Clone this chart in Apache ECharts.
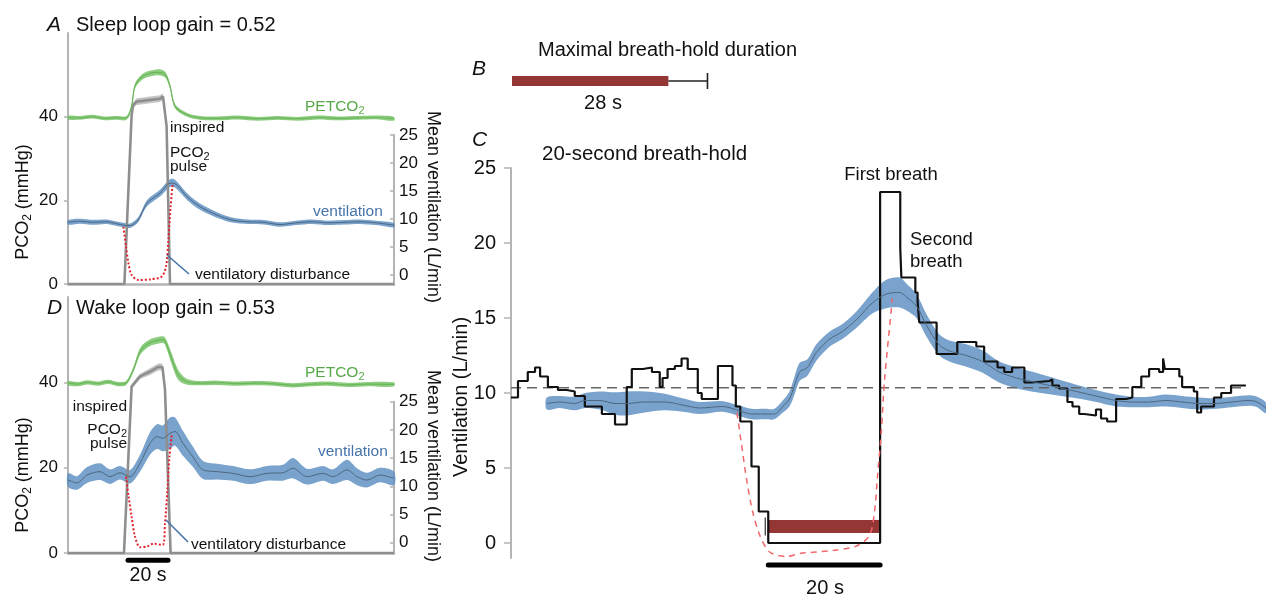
<!DOCTYPE html>
<html>
<head>
<meta charset="utf-8">
<title>Loop gain and breath-hold ventilation</title>
<script src="https://cdn.jsdelivr.net/npm/echarts@6/dist/echarts.min.js"></script>
<style>
  html, body { margin: 0; padding: 0; background: #fff; }
  #chart { width: 1266px; height: 596px; }
</style>
</head>
<body>
<div id="chart"></div>
<script>
// ---- Panel A: sleep (time in s, pulse starts at 0) ----
const aPetT = [-30, -24, -18, -12, -6, -0.7, 1.8, 3.5, 7.7, 14.3, 18.5, 21, 23.5, 29.3, 36, 45, 55, 65, 75, 85, 95, 105, 115, 125, 133]
const aPetMean = [39.8, 39.7, 40.0, 39.6, 39.7, 39.7, 42.5, 47.3, 49.7, 50.6, 50.1, 47.3, 42.5, 40.5, 39.7, 39.6, 39.8, 39.5, 39.7, 39.5, 39.8, 39.6, 39.7, 39.8, 39.5]
const aPetSd = [0.45, 0.45, 0.45, 0.45, 0.45, 0.45, 0.5, 0.6, 0.7, 0.7, 0.7, 0.6, 0.5, 0.45, 0.45, 0.45, 0.45, 0.45, 0.45, 0.45, 0.45, 0.45, 0.45, 0.45, 0.45]
const aInspT = [-30, -1.8, 1.8, 2.5, 4.3, 16, 17.5, 19.3, 21, 133]
const aInspMean = [0, 0, 40.3, 42.7, 43.6, 44.3, 44.8, 37.7, 0, 0]
const aInspSd = [0, 0, 0.4, 0.7, 0.8, 0.8, 0.8, 0.5, 0, 0]
const aVentT = [-30, -24, -17.5, -11, -5, -2.3, 1, 5, 9.5, 16, 21, 23.5, 29.5, 36, 44.5, 52, 60, 68, 76, 84, 92, 100, 108, 116, 124, 133]
const aVentMean = [9.4, 9.6, 9.4, 9.5, 9.1, 8.9, 8.8, 9.8, 12.8, 14.6, 16.4, 16.3, 14.0, 12.2, 10.7, 9.8, 9.5, 9.4, 9.0, 9.3, 9.5, 9.3, 9.4, 9.5, 9.3, 8.9]
const aVentSd = [0.4, 0.45, 0.45, 0.4, 0.4, 0.4, 0.4, 0.45, 0.55, 0.6, 0.7, 0.7, 0.6, 0.55, 0.5, 0.45, 0.4, 0.4, 0.4, 0.4, 0.4, 0.4, 0.4, 0.4, 0.4, 0.4]
const aDistT = [-2.3, -1, 0.2, 1.8, 5.2, 11, 16.8, 19, 20.2, 21.3, 22.3]
const aDistV = [8.6, 5.1, 2.1, 0, -0.9, -0.8, -0.3, 1.5, 6.2, 12.2, 16.1]

// ---- Panel D: wake ----
const dPetT = [-30, -25, -20, -15, -10, -5, -1, 2.7, 6, 9.3, 12.7, 17.7, 19.3, 22, 25, 29, 35, 45, 55, 65, 75, 82.5, 90, 100, 110, 120, 133]
const dPetMean = [39.8, 39.6, 40.0, 39.7, 40.1, 39.6, 39.8, 43.0, 47.2, 48.8, 49.6, 50.0, 48.8, 45.3, 41.8, 40.2, 39.8, 39.9, 39.7, 39.8, 39.6, 39.3, 39.5, 39.7, 39.4, 39.6, 39.5]
const dPetSd = [0.5, 0.5, 0.5, 0.5, 0.5, 0.5, 0.5, 0.6, 0.8, 0.8, 0.8, 0.8, 1.0, 1.3, 1.2, 0.7, 0.5, 0.5, 0.5, 0.5, 0.5, 0.5, 0.5, 0.5, 0.5, 0.5, 0.5]
const dInspT = [-30, -2, 1.8, 6, 11, 15.2, 17.2, 18.5, 21.3, 133]
const dInspMean = [0, 0, 39.0, 41.4, 42.5, 43.6, 43.6, 38.3, 0, 0]
const dInspSd = [0, 0, 0.5, 0.6, 0.8, 0.8, 0.8, 0.6, 0, 0]
const dVentT = [-30, -25.5, -20.5, -14, -9, -4, 1, 6, 11, 14.5, 17.5, 21, 23.5, 27.5, 32.5, 37.5, 44.5, 52.5, 61, 69.5, 77.5, 82.5, 89.5, 97.5, 102.5, 109.5, 114.5, 119.5, 126, 133]
const dVentMean = [11.1, 10.6, 12.0, 12.6, 11.7, 12.4, 11.7, 14.1, 17.6, 18.8, 18.5, 19.4, 19.7, 17.6, 15.2, 12.9, 12.6, 12.3, 11.7, 12.3, 12.4, 13.2, 11.7, 12.3, 11.7, 12.9, 11.7, 11.1, 12.0, 11.4]
const dVentSd = [1.2, 1.2, 1.4, 1.5, 1.3, 1.2, 1.2, 1.5, 2.0, 2.2, 2.3, 2.8, 2.5, 2.2, 1.8, 1.6, 1.4, 1.3, 1.3, 1.3, 1.4, 1.8, 1.4, 1.3, 1.3, 1.8, 1.5, 1.3, 1.3, 1.2]
const dDistT = [-1, 0.3, 1.8, 3.5, 6, 9.3, 12.7, 17.3, 18.5, 19.7, 20.7, 22]
const dDistV = [11.7, 8.2, 4.6, 1.1, -0.8, -0.7, -0.2, -0.4, 3.4, 9.3, 15.2, 19.4]
const pulseBar = [0, 20]

// ---- Panel B: maximal breath-hold ----
const maxHold = 28
const maxHoldSd = 7

// ---- Panel C: 20-second breath-hold (time in s, hold starts at 0) ----
const cBreathT = [-46, -44.75, -43, -41.7, -40.8, -39.4, -37.6, -36, -34.6, -32.8, -29.75, -27.4, -25.3, -24.4, -22.4, -20.8, -19.4, -18.9, -18.0, -16.7, -15.5, -14.4, -12.6, -11.9, -9.0, -6.4, -5.8, -5.0, -3.0, -1.7, 0, 20, 23.6, 23.8, 26.3, 26.7, 27.0, 30.1, 33.8, 37.2, 38.6, 41.0, 42.2, 43.6, 45.8, 47.2, 50.25, 50.8, 52.0, 53.5, 54.4, 55.6, 56.5, 58.6, 59.5, 60.6, 62.2, 64.0, 65.1, 66.7, 68.1, 69.9, 70.6, 70.9, 73.5, 74.0, 76.1, 76.7, 77.4, 79.7, 81.0, 82.75, 85.4]
const cBreathV = [9.7, 10.8, 11.4, 11.7, 11.1, 10.4, 10.2, 10.1, 9.8, 9.1, 8.6, 7.9, 10.4, 11.6, 11.7, 11.4, 10.4, 11.0, 11.6, 11.8, 12.3, 11.6, 10.0, 9.6, 11.8, 10.5, 9.1, 8.1, 5.1, 2.1, 0, 23.4, 19.7, 17.7, 16.7, 16.1, 14.7, 12.6, 13.4, 13.1, 12.1, 11.7, 11.4, 11.7, 10.7, 10.8, 10.9, 10.5, 10.3, 9.4, 9.1, 8.6, 8.5, 8.9, 8.3, 8.1, 9.6, 9.7, 10.4, 11.1, 11.6, 11.4, 12.3, 11.6, 11.1, 10.4, 10.1, 8.7, 9.1, 9.7, 10.0, 10.5, 10.5]
const cVentT = [-39.6, -37.25, -34.6, -32.8, -30.1, -27.4, -25.3, -22.1, -18.5, -15.3, -12.25, -8.1, -5.1, -3.0, -0.6, 1.1, 2.6, 3.8, 4.7, 5.6, 7.0, 8.6, 11.0, 13.25, 15.8, 18.6, 21.1, 23.5, 24.7, 26.5, 28.3, 30.6, 32.4, 35.4, 38.3, 41.3, 44.4, 47.9, 51.5, 55.1, 58.6, 62.2, 65.1, 68.1, 71.1, 74.0, 77.0, 80.1, 82.9, 86.0, 87.4, 89]
const cVentMean = [9.3, 9.4, 9.3, 9.5, 9.5, 9.3, 9.3, 9.4, 9.4, 9.2, 9.0, 9.1, 8.8, 8.6, 8.6, 8.6, 9.1, 9.6, 10.5, 11.4, 11.7, 12.7, 13.6, 14.1, 14.9, 16.0, 16.6, 16.7, 16.4, 15.8, 14.5, 13.2, 12.8, 12.5, 12.1, 11.4, 11.0, 10.7, 10.4, 10.1, 9.8, 9.5, 9.4, 9.4, 9.5, 9.4, 9.3, 9.3, 9.4, 9.5, 9.4, 9.0]
const cVentSd = [0.4, 0.4, 0.45, 0.5, 0.6, 0.75, 0.8, 0.7, 0.55, 0.45, 0.4, 0.35, 0.35, 0.35, 0.35, 0.35, 0.4, 0.5, 0.6, 0.6, 0.55, 0.55, 0.5, 0.5, 0.55, 0.7, 0.95, 1.0, 0.9, 0.8, 0.75, 0.7, 0.7, 0.75, 0.75, 0.7, 0.7, 0.65, 0.55, 0.45, 0.4, 0.4, 0.35, 0.35, 0.4, 0.4, 0.4, 0.35, 0.35, 0.35, 0.35, 0.35]
const cDistT = [-5.6, -4.75, -3.9, -2.8, -1.5, 0.25, 3.3, 5.6, 11.5, 15.8, 18.1, 19.0, 19.5, 20.25, 20.8, 22.2]
const cDistV = [8.7, 6.5, 4.3, 2.1, 0.5, -0.6, -0.9, -0.7, -0.5, -0.2, 0.5, 2.1, 4.3, 7.6, 10.9, 16.3]
const cBaseline = 10.35
const holdSpan = [0, 20]
const holdLevel = 1.1

const FONT = '"Liberation Sans", Arial, Helvetica, sans-serif'
const AXIS_GRAY = '#b4b4b4'
const BLUE_FILL = 'rgba(92,143,193,0.82)'
const BLUE_LINE = '#4d6780'
const BLUE_TEXT = '#4674aa'
const GREEN_TEXT = '#57a948'

function pairs(t, v) {
  return t.map((x, i) => [x, v[i]])
}

function lineSeries(xi, yi, t, v, lineStyle, extra) {
  return Object.assign({
    type: 'line',
    xAxisIndex: xi,
    yAxisIndex: yi,
    data: pairs(t, v),
    symbol: 'none',
    silent: true,
    lineStyle,
  }, extra || {})
}

// mean +/- sd ribbon drawn as one polygon through the axes
function bandSeries(xi, yi, t, mean, sd, fill, smooth) {
  return {
    type: 'custom',
    xAxisIndex: xi,
    yAxisIndex: yi,
    silent: true,
    data: pairs(t, mean),
    renderItem(params, api) {
      if (params.dataIndex !== 0) return null
      const up = t.map((x, i) => api.coord([x, mean[i] + sd[i]]))
      const lo = t.map((x, i) => api.coord([x, mean[i] - sd[i]])).reverse()
      return {
        type: 'polygon',
        shape: { points: up.concat(lo), smooth: smooth || 0 },
        style: { fill },
      }
    },
  }
}

// horizontal scale bar (e.g. 20 s) placed at a value below the axis
function scaleBar(xi, yi, span, yVal, width) {
  return {
    type: 'custom',
    xAxisIndex: xi,
    yAxisIndex: yi,
    silent: true,
    clip: false,
    data: [span],
    renderItem(params, api) {
      const p0 = api.coord([span[0], yVal])
      const p1 = api.coord([span[1], yVal])
      return {
        type: 'line',
        shape: { x1: p0[0], y1: p0[1], x2: p1[0], y2: p1[1] },
        style: { stroke: '#000', lineWidth: width, lineCap: 'round' },
      }
    },
  }
}

function sub(size, color) {
  return {
    s: {
      fontSize: Math.round(size * 0.68),
      fontFamily: FONT,
      fill: color,
      padding: [Math.round(size * 0.5), 0, 0, 0],
    },
  }
}

function label(x, y, text, o) {
  o = o || {}
  const size = o.size || 15.5
  const color = o.color || '#111'
  return {
    type: 'text',
    x,
    y,
    rotation: o.rot || 0,
    silent: true,
    z: 100,
    style: {
      text,
      fontFamily: FONT,
      fontSize: size,
      fontStyle: o.italic ? 'italic' : 'normal',
      fill: color,
      align: o.align || 'left',
      verticalAlign: 'middle',
      rich: sub(size, color),
    },
  }
}

function leader(x1, y1, x2, y2) {
  return {
    type: 'line',
    silent: true,
    z: 100,
    shape: { x1, y1, x2, y2 },
    style: { stroke: BLUE_TEXT, lineWidth: 1.6 },
  }
}

function timeAxis(grid, min, max, showLine) {
  return {
    type: 'value',
    gridIndex: grid,
    min,
    max,
    show: showLine,
    axisLine: { show: showLine, onZero: false, lineStyle: { color: AXIS_GRAY, width: 2.5 } },
    axisTick: { show: false },
    axisLabel: { show: false },
    splitLine: { show: false },
  }
}

function valueAxis(grid, min, max, ticks, o) {
  return {
    type: 'value',
    gridIndex: grid,
    min,
    max,
    position: o.position || 'left',
    show: o.show !== false,
    axisLine: { show: true, onZero: false, lineStyle: { color: AXIS_GRAY, width: 2 } },
    axisTick: { show: true, inside: !!o.inside, length: o.tickLen || 4, customValues: ticks, lineStyle: { color: AXIS_GRAY, width: 1.5 } },
    axisLabel: { customValues: ticks, fontSize: o.size || 17, fontFamily: FONT, color: '#111', margin: o.margin || 10 },
    splitLine: { show: false },
  }
}

const ventTicks = [0, 5, 10, 15, 20, 25]
const pcoTicks = [0, 20, 40]

const chart = echarts.init(document.getElementById('chart'), null, { renderer: 'canvas' })

const option = {
  animation: false,
  backgroundColor: '#fff',
  grid: [
    { left: 68, top: 33, width: 326, height: 251 },
    { left: 68, top: 135, width: 326, height: 150 },
    { left: 68, top: 297, width: 326, height: 256 },
    { left: 68, top: 401.7, width: 326, height: 151.7 },
    { left: 512, top: 71, width: 756, height: 20 },
    { left: 511, top: 168, width: 756, height: 390 },
  ],
  xAxis: [
    timeAxis(0, -30, 133, true),
    timeAxis(1, -30, 133, false),
    timeAxis(2, -30, 133, true),
    timeAxis(3, -30, 133, false),
    timeAxis(4, 0, 135, false),
    timeAxis(5, -46, 89, false),
  ],
  yAxis: [
    valueAxis(0, 0, 60, pcoTicks, {}),
    valueAxis(1, -1.8, 25, ventTicks, { position: 'right', inside: true, margin: 5 }),
    valueAxis(2, 0, 60, pcoTicks, {}),
    valueAxis(3, -1.9, 25, ventTicks, { position: 'right', inside: true, margin: 5 }),
    { type: 'value', gridIndex: 4, min: 0, max: 1, show: false },
    valueAxis(5, -1, 25, ventTicks, { size: 20, tickLen: 7, margin: 15 }),
  ],
  series: [
    // A
    bandSeries(0, 0, aInspT, aInspMean, aInspSd, 'rgba(150,150,150,0.55)', 0),
    lineSeries(0, 0, aInspT, aInspMean, { color: '#8e8e8e', width: 2.6 }),
    bandSeries(0, 0, aPetT, aPetMean, aPetSd, 'rgba(120,196,104,0.85)', 0.3),
    lineSeries(0, 0, aPetT, aPetMean, { color: '#6cb65c', width: 1.2 }, { smooth: 0.3 }),
    bandSeries(1, 1, aVentT, aVentMean, aVentSd, BLUE_FILL, 0.3),
    lineSeries(1, 1, aVentT, aVentMean, { color: BLUE_LINE, width: 1 }, { smooth: 0.3 }),
    lineSeries(1, 1, aDistT, aDistV, { color: '#e0232d', width: 2, type: [2, 2] }, { smooth: 0.3 }),
    // D
    bandSeries(2, 2, dInspT, dInspMean, dInspSd, 'rgba(150,150,150,0.55)', 0),
    lineSeries(2, 2, dInspT, dInspMean, { color: '#8e8e8e', width: 2.6 }),
    bandSeries(2, 2, dPetT, dPetMean, dPetSd, 'rgba(120,196,104,0.85)', 0.3),
    lineSeries(2, 2, dPetT, dPetMean, { color: '#6cb65c', width: 1.2 }, { smooth: 0.3 }),
    bandSeries(3, 3, dVentT, dVentMean, dVentSd, BLUE_FILL, 0.3),
    lineSeries(3, 3, dVentT, dVentMean, { color: BLUE_LINE, width: 1 }, { smooth: 0.3 }),
    lineSeries(3, 3, dDistT, dDistV, { color: '#e0232d', width: 2, type: [2, 2] }, { smooth: 0.3 }),
    scaleBar(2, 2, pulseBar, -1.7, 5),
    // B
    {
      type: 'custom',
      xAxisIndex: 4,
      yAxisIndex: 4,
      silent: true,
      data: [[0, maxHold, maxHoldSd]],
      renderItem(params, api) {
        const a = api.coord([0, 0.5])
        const b = api.coord([maxHold, 0.5])
        const c = api.coord([maxHold + maxHoldSd, 0.5])
        return {
          type: 'group',
          children: [
            { type: 'rect', shape: { x: a[0], y: a[1] - 5, width: b[0] - a[0], height: 10 }, style: { fill: '#943634' } },
            { type: 'line', shape: { x1: b[0], y1: b[1], x2: c[0], y2: c[1] }, style: { stroke: '#222', lineWidth: 1.4 } },
            { type: 'line', shape: { x1: c[0], y1: c[1] - 8, x2: c[0], y2: c[1] + 8 }, style: { stroke: '#222', lineWidth: 1.6 } },
          ],
        }
      },
    },
    // C
    lineSeries(5, 5, [cBreathT[0], cBreathT[cBreathT.length - 1]], [cBaseline, cBaseline], { color: '#666', width: 1.4, type: [10, 6] }),
    lineSeries(5, 5, cBreathT, cBreathV, { color: '#111', width: 2.2 }, { step: 'end' }),
    bandSeries(5, 5, cVentT, cVentMean, cVentSd, BLUE_FILL, 0.3),
    lineSeries(5, 5, cVentT, cVentMean, { color: BLUE_LINE, width: 1 }, { smooth: 0.3 }),
    lineSeries(5, 5, cDistT, cDistV, { color: '#f0686b', width: 1.5, type: [6, 5] }, { smooth: 0.3 }),
    {
      type: 'custom',
      xAxisIndex: 5,
      yAxisIndex: 5,
      silent: true,
      data: [holdSpan],
      renderItem(params, api) {
        const a = api.coord([holdSpan[0], holdLevel])
        const b = api.coord([holdSpan[1], holdLevel])
        return {
          type: 'group',
          children: [
            { type: 'rect', shape: { x: a[0], y: a[1] - 6.5, width: b[0] - a[0], height: 13 }, style: { fill: '#943634' } },
            { type: 'line', shape: { x1: a[0] - 3, y1: a[1] - 9, x2: a[0] - 3, y2: a[1] + 9 }, style: { stroke: '#333', lineWidth: 1.2 } },
          ],
        }
      },
    },
    scaleBar(5, 5, holdSpan, -1.47, 5),
  ],
  graphic: [
    // A
    label(47, 25, 'A', { size: 21, italic: true }),
    label(76, 25.5, 'Sleep loop gain = 0.52', { size: 20 }),
    label(305, 107, 'PETCO{s|2}', { color: GREEN_TEXT }),
    label(170, 128, 'inspired'),
    label(170, 153, 'PCO{s|2}'),
    label(170, 166.5, 'pulse'),
    label(313, 212, 'ventilation', { color: BLUE_TEXT }),
    label(195, 274.5, 'ventilatory disturbance'),
    leader(167, 255, 189, 274),
    label(23, 202, 'PCO{s|2} (mmHg)', { size: 18, align: 'center', rot: Math.PI / 2 }),
    label(433, 207, 'Mean ventilation (L/min)', { size: 18, align: 'center', rot: -Math.PI / 2 }),
    // D
    label(47, 308, 'D', { size: 21, italic: true }),
    label(76, 308, 'Wake loop gain = 0.53', { size: 20 }),
    label(305, 373, 'PETCO{s|2}', { color: GREEN_TEXT }),
    label(127, 406.5, 'inspired', { align: 'right' }),
    label(127, 430, 'PCO{s|2}', { align: 'right' }),
    label(127, 444, 'pulse', { align: 'right' }),
    label(318, 452, 'ventilation', { color: BLUE_TEXT }),
    label(191, 544.5, 'ventilatory disturbance'),
    leader(166, 520, 188, 542),
    label(23, 475, 'PCO{s|2} (mmHg)', { size: 18, align: 'center', rot: Math.PI / 2 }),
    label(433, 466, 'Mean ventilation (L/min)', { size: 18, align: 'center', rot: -Math.PI / 2 }),
    label(148, 576, '20 s', { size: 19.5, align: 'center' }),
    // B
    label(472, 69, 'B', { size: 21, italic: true }),
    label(538, 50, 'Maximal breath-hold duration', { size: 20 }),
    label(603, 103, '28 s', { size: 20, align: 'center' }),
    // C
    label(472, 140, 'C', { size: 21, italic: true }),
    label(542, 154.5, '20-second breath-hold', { size: 20.5 }),
    label(891, 175, 'First breath', { size: 18.5, align: 'center' }),
    label(910, 240, 'Second', { size: 18.5 }),
    label(910, 262, 'breath', { size: 18.5 }),
    label(825, 588, '20 s', { size: 20, align: 'center' }),
    label(461, 397, 'Ventilation (L/min)', { size: 20, align: 'center', rot: Math.PI / 2 }),
  ],
}

chart.setOption(option)
</script>
</body>
</html>
